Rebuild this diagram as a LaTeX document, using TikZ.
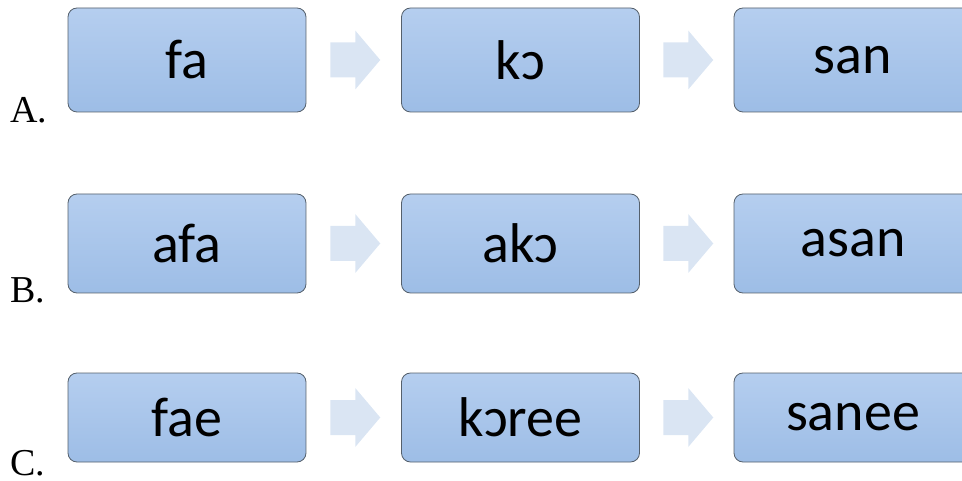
\documentclass[tikz,border=0pt]{standalone}
\usepackage{fontspec}
\setmainfont{Liberation Serif}
\newfontfamily\boxfont{Carlito}
\usetikzlibrary{calc}
\definecolor{boxtop}{HTML}{B5CEEF}
\definecolor{boxmid}{HTML}{A8C4EA}
\definecolor{boxbot}{HTML}{9DBDE6}
\definecolor{boxline}{HTML}{55606C}
\definecolor{arrowfill}{HTML}{DAE5F3}
\tikzstyle{word}=[rectangle,rounded corners=9pt,draw=boxline,line width=0.8pt,
  top color=boxtop,middle color=boxmid,bottom color=boxbot,
  minimum width=238pt,inner sep=0pt,font=\boxfont\fontsize{56}{66}\selectfont]
\tikzstyle{rowlabel}=[anchor=base west,inner sep=0pt,font=\fontsize{38}{44}\selectfont]
\newcommand{\flowarrow}[2]{\fill[arrowfill] ($(#1.east)!0.5!(#2.west)$) ++(-23.5,-17.5)
  -- ++(25,0) -- ++(0,-12) -- ++(25,29.5) -- ++(-25,29.5) -- ++(0,-12) -- ++(-25,0) -- cycle;}

\begin{document}
\begin{tikzpicture}[x=1pt,y=1pt]
    \useasboundingbox (0,0) rectangle (962,480);
    % row A
    \node[word,minimum height=104pt] (a1) at (187,420)   {fa};
    \node[word,minimum height=104pt] (a2) at (520.5,420) {kɔ};
    \node[word,minimum height=104pt] (a3) at (853,420)   {san};
    \node[rowlabel] (la) at (10,357) {A.};
    \flowarrow{a1}{a2}
    \flowarrow{a2}{a3}
    % row B
    \node[word,minimum height=99pt] (b1) at (187,236.5)   {afa};
    \node[word,minimum height=99pt] (b2) at (520.5,236.5) {akɔ};
    \node[word,minimum height=99pt] (b3) at (853,236.5)   {asan};
    \node[rowlabel] (lb) at (10,177) {B.};
    \flowarrow{b1}{b2}
    \flowarrow{b2}{b3}
    % row C
    \node[word,minimum height=89pt] (c1) at (187,62.5)   {fae};
    \node[word,minimum height=89pt] (c2) at (520.5,62.5) {kɔree};
    \node[word,minimum height=89pt] (c3) at (853,62.5)   {sanee};
    \node[rowlabel] (lc) at (10,5) {C.};
    \flowarrow{c1}{c2}
    \flowarrow{c2}{c3}
\end{tikzpicture}
\end{document}
